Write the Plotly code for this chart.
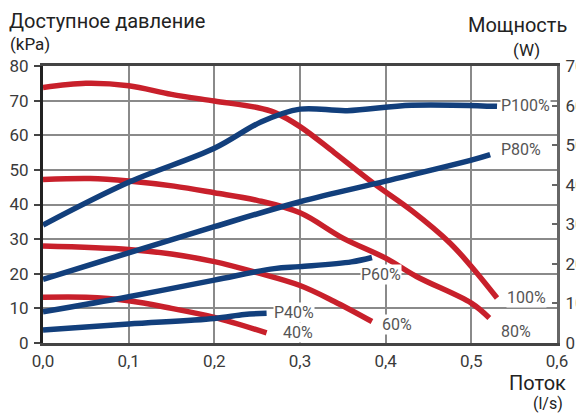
import plotly.graph_objects as go

VERMELHO = "#C8202B"
AZUL = "#123F7C"
TINTA = "#3A3A3A"
GRADE = "#8A8A8A"
FONTE = "Roboto"

# curvas de pressão disponível (kPa, eixo esquerdo)
x_100 = [0.0, 0.05, 0.1, 0.15, 0.2, 0.25, 0.27, 0.3, 0.34, 0.386, 0.43, 0.475, 0.5, 0.53]
y_100 = [73.8, 75.0, 74.3, 71.8, 69.9, 68.0, 66.6, 62.5, 55.0, 46.1, 38.3, 28.9, 22.1, 13.0]
x_80 = [0.0, 0.055, 0.1, 0.153, 0.2, 0.25, 0.3, 0.35, 0.4, 0.436, 0.5, 0.521]
y_80 = [47.2, 47.5, 46.8, 45.3, 43.4, 41.2, 37.6, 30.3, 24.5, 19.2, 11.5, 7.2]
x_60 = [0.0, 0.1, 0.15, 0.2, 0.25, 0.3, 0.34, 0.384]
y_60 = [28.0, 27.0, 25.7, 23.5, 20.3, 16.6, 12.0, 6.2]
x_40 = [0.0, 0.05, 0.1, 0.15, 0.2, 0.261]
y_40 = [13.2, 13.2, 12.2, 10.0, 7.4, 2.9]

# curvas de potência (W, eixo direito)
xp_100 = [0.0, 0.1, 0.2, 0.255, 0.3, 0.355, 0.43, 0.53]
yp_100 = [29.8, 40.6, 49.2, 55.9, 59.1, 58.7, 60.1, 59.8]
xp_80 = [0.0, 0.1, 0.2, 0.3, 0.4, 0.5, 0.522]
yp_80 = [16.1, 22.8, 29.4, 35.7, 40.9, 46.2, 47.6]
xp_60 = [0.0, 0.1, 0.2, 0.27, 0.3, 0.36, 0.384]
yp_60 = [7.9, 11.7, 15.9, 18.8, 19.3, 20.5, 21.6]
xp_40 = [0.0, 0.1, 0.2, 0.235, 0.261]
yp_40 = [3.3, 4.8, 6.2, 7.2, 7.5]

# rótulos das curvas: (texto, x, y, eixo)
rotulos = [
    ("P100%", 0.534, 60.0, "y2"),
    ("P80%", 0.534, 48.8, "y2"),
    ("P60%", 0.370, 17.2, "y2"),
    ("P40%", 0.268, 7.6, "y2"),
    ("100%", 0.541, 13.2, "y"),
    ("80%", 0.533, 3.3, "y"),
    ("60%", 0.394, 5.3, "y"),
    ("40%", 0.279, 3.0, "y"),
]

fig = go.Figure()
for xs, ys in [(x_100, y_100), (x_80, y_80), (x_60, y_60), (x_40, y_40)]:
    fig.add_scatter(x=xs, y=ys, mode="lines", line=dict(color=VERMELHO, width=5.5, shape="spline"),
                    showlegend=False, hoverinfo="skip")
for xs, ys in [(xp_100, yp_100), (xp_80, yp_80), (xp_60, yp_60), (xp_40, yp_40)]:
    fig.add_scatter(x=xs, y=ys, mode="lines", yaxis="y2",
                    line=dict(color=AZUL, width=5.5, shape="spline"),
                    showlegend=False, hoverinfo="skip")

for txt, x, y, eixo in rotulos:
    fig.add_annotation(x=x, y=y, yref=eixo, text=txt, showarrow=False, xanchor="left",
                       yanchor="middle", bgcolor="white", borderpad=0,
                       font=dict(size=16, color="#555555", family=FONTE))

titulos = [
    ("Доступное давление", -0.068, 1.162, "left", 20),
    ("(kPa)", -0.066, 1.079, "left", 17),
    ("Мощность", 1.022, 1.148, "right", 20),
    ("(W)", 0.968, 1.058, "right", 17),
    ("Поток", 1.02, -0.143, "right", 20),
    ("(l/s)", 1.013, -0.218, "right", 16),
]
for txt, x, y, anc, sz in titulos:
    fig.add_annotation(x=x, y=y, xref="paper", yref="paper", text=txt, showarrow=False,
                       xanchor=anc, yanchor="middle", borderpad=0,
                       font=dict(size=sz, color="#222222", family=FONTE))

# a página desloca a figura 8px (margem do body): figura 8px menor
fig.update_layout(
    width=576, height=406, paper_bgcolor="white", plot_bgcolor="white",
    margin=dict(l=35, r=27, t=58, b=71), separators=", ",
    font=dict(family=FONTE, color=TINTA, size=17),
    xaxis=dict(range=[0, 0.6], tickvals=[0, 0.1, 0.2, 0.3, 0.4, 0.5, 0.6], tickformat=".1f",
               showgrid=True, gridcolor=GRADE, gridwidth=1.5, zeroline=False,
               showline=True, linecolor="#444444", linewidth=3, mirror=True,
               ticks="", ticklabelstandoff=1, automargin=False),
    yaxis=dict(range=[0, 80], dtick=10, showgrid=True, gridcolor=GRADE, gridwidth=1.5,
               zeroline=False, showline=True, linecolor="#222222", linewidth=3,
               ticks="outside", ticklen=6, tickcolor="#444444", tickwidth=1.5,
               ticklabelstandoff=2, automargin=False),
    yaxis2=dict(range=[0, 70], dtick=10, overlaying="y", side="right", showgrid=False,
                zeroline=False, showline=True, linecolor="#666666", linewidth=3,
                ticks="inside", ticklen=5, tickcolor="#666666", tickwidth=1.5,
                ticklabelstandoff=2, automargin=False),
)

fig.write_html("out.html")
